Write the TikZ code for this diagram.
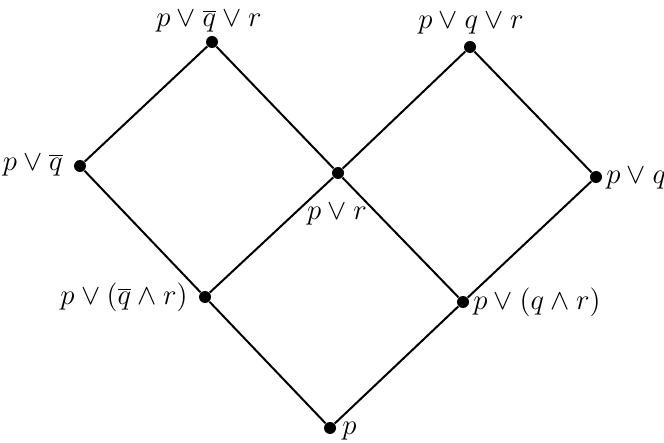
\documentclass[tikz,border=0pt]{standalone}
\begin{document}
\begin{tikzpicture}[x=0.5pt,y=-0.5pt,
  dot/.style={circle,fill=black,inner sep=0pt,minimum size=6pt},
  lbl/.style={inner sep=0pt,font=\fontsize{13.3}{15.5}\selectfont},
  edge/.style={line width=1pt}]
\useasboundingbox (0,0) rectangle (664,443);
\node[dot] (a) at (212,42) {};
\node[dot] (b) at (470,47) {};
\node[dot] (c) at (80,166) {};
\node[dot] (d) at (338,173) {};
\node[dot] (e) at (596,177) {};
\node[dot] (f) at (205,297) {};
\node[dot] (g) at (463,302) {};
\node[dot] (h) at (330,428) {};
\draw[edge] (a) -- (c);
\draw[edge] (a) -- (d);
\draw[edge] (b) -- (d);
\draw[edge] (b) -- (e);
\draw[edge] (c) -- (f);
\draw[edge] (d) -- (f);
\draw[edge] (d) -- (g);
\draw[edge] (e) -- (g);
\draw[edge] (f) -- (h);
\draw[edge] (g) -- (h);
\node[lbl] (la) at (209,21) {$p\vee\overline{q}\vee r$};
\node[lbl] (lb) at (471,23) {$p\vee q\vee r$};
\node[lbl,anchor=east] (lc) at (63,165) {$p\vee\overline{q}$};
\node[lbl] (ld) at (337,214) {$p\vee r$};
\node[lbl,anchor=west] (le) at (606,178) {$p\vee q$};
\node[lbl,anchor=east] (lf) at (188,297) {$p\vee(\overline{q}\wedge r)$};
\node[lbl,anchor=west] (lg) at (473,302) {$p\vee(q\wedge r)$};
\node[lbl,anchor=west] (lh) at (342,431) {$p$};
\end{tikzpicture}
\end{document}
